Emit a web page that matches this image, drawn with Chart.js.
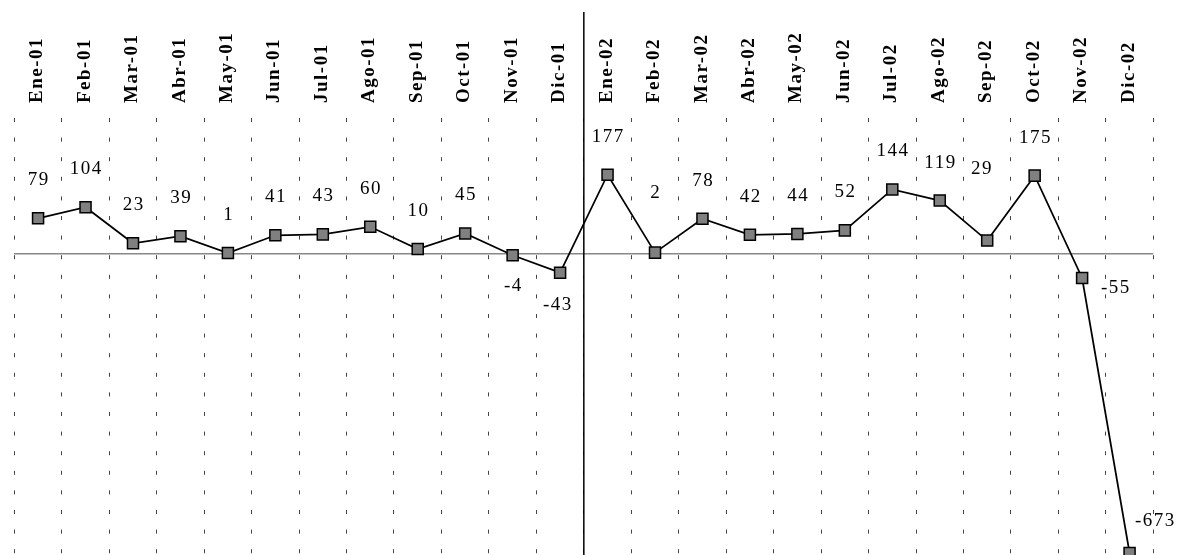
<!DOCTYPE html>
<html>
<head>
<meta charset="utf-8">
<script src="https://cdn.jsdelivr.net/npm/chart.js@4/dist/chart.umd.min.js"></script>
<style>
  html, body { margin: 0; padding: 0; background: #fff; }
  #wrap { width: 1178px; height: 555px; }
</style>
</head>
<body>
<div id="wrap"><canvas id="c" width="1178" height="555"></canvas></div>
<script>
// Monthly series, Jan 2001 - Dec 2002
const months = ['Ene-01','Feb-01','Mar-01','Abr-01','May-01','Jun-01','Jul-01','Ago-01','Sep-01','Oct-01','Nov-01','Dic-01',
                'Ene-02','Feb-02','Mar-02','Abr-02','May-02','Jun-02','Jul-02','Ago-02','Sep-02','Oct-02','Nov-02','Dic-02'];
const values = [79, 104, 23, 39, 1, 41, 43, 60, 10, 45, -4, -43,
                177, 2, 78, 42, 44, 52, 144, 119, 29, 175, -55, -673];

// Value-label placement (pixel shifts from the marker centre)
const labelAbove = -38;
const labelBelow = 31;
const labelShiftOverrides = { 11: [-3, 32], 13: [0, -60], 20: [-6, -72], 22: [33, 10], 23: [25, -32] };

const SERIF = '"Liberation Serif", "Times New Roman", serif';

// Letter spacing for the rotated month labels on the top axis
const spacingPlugin = {
  id: 'spacing',
  beforeDraw(chart) { chart.ctx.letterSpacing = '1.5px'; },
  beforeDatasetsDraw(chart) { chart.ctx.letterSpacing = '0px'; }
};

// Solid separator between the two years, running through the label band
const yearDivider = {
  id: 'yearDivider',
  beforeDatasetsDraw(chart) {
    const x = chart.scales.x;
    const px = (x.getPixelForValue(11) + x.getPixelForValue(12)) / 2;
    const ctx = chart.ctx;
    ctx.save();
    ctx.strokeStyle = '#000';
    ctx.lineWidth = 1.5;
    ctx.beginPath();
    ctx.moveTo(px, 12);
    ctx.lineTo(px, chart.height);
    ctx.stroke();
    ctx.restore();
  }
};

// Value labels next to each marker
const valueLabels = {
  id: 'valueLabels',
  afterDatasetsDraw(chart) {
    const ctx = chart.ctx;
    const meta = chart.getDatasetMeta(0);
    ctx.save();
    ctx.font = '19px ' + SERIF;
    ctx.letterSpacing = '1.5px';
    ctx.fillStyle = '#000';
    ctx.textAlign = 'center';
    ctx.textBaseline = 'middle';
    meta.data.forEach((pt, i) => {
      const v = values[i];
      const shift = labelShiftOverrides[i] || [0, v >= 0 ? labelAbove : labelBelow];
      ctx.fillText(String(v), pt.x + shift[0] + 0.75, pt.y + shift[1]);
    });
    ctx.restore();
  }
};

new Chart(document.getElementById('c'), {
  type: 'line',
  data: {
    labels: months,
    datasets: [{
      data: values,
      borderColor: '#000',
      borderWidth: 1.75,
      pointStyle: 'rect',
      pointRadius: 7.8,
      pointHoverRadius: 7.8,
      pointBackgroundColor: '#808080',
      pointBorderColor: '#000',
      pointBorderWidth: 1.5,
      tension: 0,
      clip: false
    }]
  },
  options: {
    responsive: false,
    animation: false,
    events: [],
    layout: { autoPadding: false, padding: { left: 13.3, right: 24.7, top: 0, bottom: 0 } },
    plugins: { legend: { display: false }, tooltip: { enabled: false } },
    scales: {
      x: {
        position: 'top',
        offset: true,
        afterFit(scale) { scale.height = 118; },
        grid: {
          offset: true,
          color: '#444',
          lineWidth: 1,
          drawTicks: false,
          borderDash: [4, 15.6],
          tickBorderDash: [4, 15.6]
        },
        border: { display: false, dash: [4, 15.6] },
        ticks: {
          minRotation: 90,
          maxRotation: 90,
          autoSkip: false,
          padding: 15,
          labelOffset: 22,
          color: '#000',
          font: { family: SERIF, size: 19, weight: 'bold' }
        }
      },
      y: {
        min: -677.5,
        max: 304.5,
        afterBuildTicks(scale) { scale.ticks = [{ value: 0 }]; },
        afterFit(scale) { scale.width = 0; },
        grid: { color: '#888', lineWidth: 1.5, drawTicks: false },
        border: { display: false },
        ticks: { display: false }
      }
    }
  },
  plugins: [spacingPlugin, yearDivider, valueLabels]
});
</script>
</body>
</html>
